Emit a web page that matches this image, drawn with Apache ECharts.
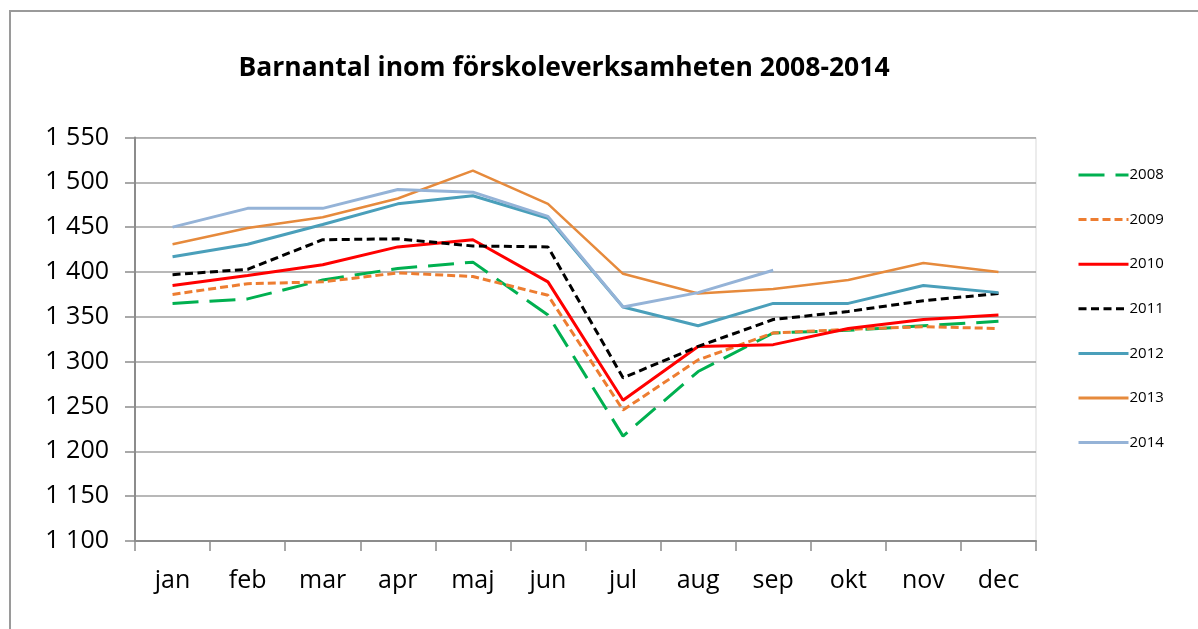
<!DOCTYPE html>
<html>
<head>
<meta charset="utf-8">
<title>Barnantal inom förskoleverksamheten 2008-2014</title>
<script src="https://cdn.jsdelivr.net/npm/echarts@6/dist/echarts.min.js"></script>
<style>
  html, body { margin: 0; padding: 0; background: #fff; }
  #chart { width: 1198px; height: 629px; }
</style>
</head>
<body>
<div id="chart"></div>
<script>
  const months = ['jan', 'feb', 'mar', 'apr', 'maj', 'jun', 'jul', 'aug', 'sep', 'okt', 'nov', 'dec'];
  const years = ['2008', '2009', '2010', '2011', '2012', '2013', '2014'];

  const v2008 = [1365, 1370, 1391, 1404, 1411, 1352, 1217, 1289, 1332, 1335, 1340, 1345];
  const v2009 = [1375, 1387, 1389, 1399, 1395, 1374, 1246, 1302, 1332, 1336, 1339, 1337];
  const v2010 = [1385, 1396, 1408, 1428, 1436, 1389, 1257, 1317, 1319, 1337, 1347, 1352];
  const v2011 = [1397, 1403, 1436, 1437, 1429, 1428, 1282, 1317, 1347, 1356, 1368, 1376];
  const v2012 = [1417, 1431, 1453, 1476, 1485, 1460, 1361, 1340, 1365, 1365, 1385, 1377];
  const v2013 = [1431, 1449, 1461, 1482, 1513, 1476, 1398, 1376, 1381, 1391, 1410, 1400];
  const v2014 = [1450, 1471, 1471, 1492, 1489, 1462, 1361, 1377, 1402, null, null, null];

  const yMin = 1100;
  const yMax = 1550;
  const yStep = 50;

  const font = '"Open Sans", "Noto Sans", sans-serif';

  // styling per year, in legend order
  const looks = {
    '2008': { data: v2008, color: '#00b050', width: 3, dash: [26, 11] },
    '2009': { data: v2009, color: '#ed7d31', width: 3, dash: [8, 4] },
    '2010': { data: v2010, color: '#ff0000', width: 3, dash: 'solid' },
    '2011': { data: v2011, color: '#000000', width: 3, dash: [8, 4.5] },
    '2012': { data: v2012, color: '#4a9fba', width: 3, dash: 'solid' },
    '2013': { data: v2013, color: '#e68a3c', width: 2.5, dash: 'solid' },
    '2014': { data: v2014, color: '#95b3d7', width: 3, dash: 'solid' }
  };

  function spaced(value) {
    return String(value).replace(/\B(?=(\d{3})+(?!\d))/g, ' ');
  }

  const series = years.map((name) => {
    const look = looks[name];
    return {
      name: name,
      type: 'line',
      data: look.data,
      symbol: 'none',
      connectNulls: false,
      lineStyle: { color: look.color, width: look.width, type: look.dash, cap: 'butt' },
      itemStyle: { color: look.color }
    };
  });

  const chart = echarts.init(document.getElementById('chart'), null, { renderer: 'canvas' });
  chart.setOption({
    animation: false,
    backgroundColor: '#ffffff',
    title: {
      text: 'Barnantal inom förskoleverksamheten 2008-2014',
      left: 559,
      textAlign: 'center',
      top: 50,
      textStyle: { fontFamily: font, fontWeight: 'bold', fontSize: 26.5, color: '#000' }
    },
    legend: {
      orient: 'vertical',
      left: 1072,
      top: 161,
      itemWidth: 50,
      itemHeight: 18,
      itemGap: 26.6,
      itemStyle: { opacity: 0 },
      lineStyle: { width: 3 },
      textStyle: { fontFamily: font, fontSize: 15, color: '#000', lineHeight: 18, padding: [0, 0, 0, -4] },
      data: years
    },
    grid: { left: 135, right: 162, top: 137.5, bottom: 88, show: true, borderColor: '#d9d9d9', borderWidth: 1 },
    xAxis: {
      type: 'category',
      data: months,
      boundaryGap: true,
      axisLine: { lineStyle: { color: '#8c8c8c', width: 2 } },
      axisTick: { show: true, length: 10, inside: false, lineStyle: { color: '#8c8c8c', width: 1.5 } },
      axisLabel: { fontFamily: font, fontSize: 25, color: '#000', margin: 27 },
      splitLine: { show: false }
    },
    yAxis: {
      type: 'value',
      min: yMin,
      max: yMax,
      interval: yStep,
      axisLine: { show: true, lineStyle: { color: '#8c8c8c', width: 2 } },
      axisTick: { show: true, length: 10, lineStyle: { color: '#8c8c8c', width: 1.5 } },
      axisLabel: { fontFamily: font, fontSize: 25, color: '#000', margin: 26, formatter: spaced },
      splitLine: { lineStyle: { color: '#a0a0a0', width: 1.5 } }
    },
    graphic: [{
      type: 'rect',
      silent: true,
      shape: { x: 10, y: 11, width: 1400, height: 800 },
      style: { fill: 'none', stroke: '#9a9a9a', lineWidth: 2 }
    }],
    series: series
  });
</script>
</body>
</html>
